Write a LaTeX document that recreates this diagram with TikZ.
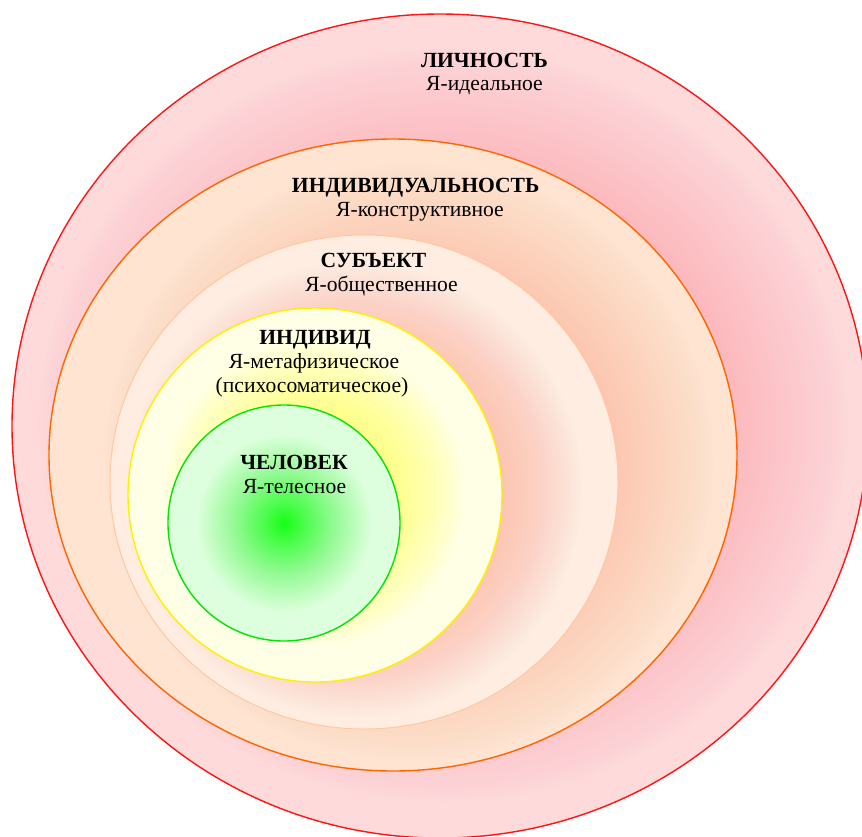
\documentclass[tikz,border=0pt]{standalone}
\usepackage{fontspec}
\setmainfont{Liberation Serif}
\usepackage{xcolor}
\usepackage{tikz}

\definecolor{redline}{RGB}{255,20,20}
\definecolor{pinkfill}{RGB}{255,218,218}
\definecolor{pinkshade}{RGB}{252,160,170}
\definecolor{orangeline}{RGB}{255,102,0}
\definecolor{peachfill}{RGB}{255,228,210}
\definecolor{peachshade}{RGB}{252,175,150}
\definecolor{subjline}{RGB}{255,200,160}
\definecolor{subjfill}{RGB}{255,237,226}
\definecolor{subjshade}{RGB}{252,160,135}
\definecolor{yellowline}{RGB}{255,240,0}
\definecolor{yellowfill}{RGB}{255,255,230}
\definecolor{yellowshade}{RGB}{255,255,70}
\definecolor{greenline}{RGB}{0,230,0}
\definecolor{greencore}{RGB}{20,255,20}
\definecolor{greenmid}{RGB}{150,250,150}
\definecolor{greenedge}{RGB}{222,255,222}

\pgfdeclareradialshading{greenglow}{\pgfpoint{0bp}{0bp}}{color(0bp)=(greencore); color(4bp)=(greenmid!40!greencore); color(11bp)=(greenmid); color(19bp)=(greenedge); color(50bp)=(greenedge)}

\begin{document}
\begin{tikzpicture}[x=1pt, y=-1pt,
  title/.style={font=\bfseries\fontsize{21.6}{24}\selectfont, inner sep=0pt, anchor=base},
  subline/.style={font=\fontsize{21.6}{24}\selectfont, inner sep=0pt, anchor=base},
  shadowring/.style={opacity=#1}]

	\clip (0,0) rectangle (862,836);

	% Outer ring
	\fill[pinkfill] (440,426) ellipse [x radius=428, y radius=412];
	\begin{scope}
		\clip (440,426) ellipse [x radius=428, y radius=412];
		\foreach \k in {1,...,30}
			\fill[pinkshade, shadowring=0.018] (443,425) ellipse [x radius=284+4*\k, y radius=256+4*\k];
	\end{scope}
	\draw[redline, line width=1.4pt] (440,426) ellipse [x radius=428, y radius=412];

	% Second ring
	\fill[peachfill] (393,455) ellipse [x radius=344, y radius=316];
	\begin{scope}
		\clip (393,455) ellipse [x radius=344, y radius=316];
		\foreach \k in {1,...,30}
			\fill[peachshade, shadowring=0.018] (409,462) ellipse [x radius=199+3.5*\k, y radius=192+3.5*\k];
	\end{scope}
	\draw[orangeline, line width=1.4pt] (393,455) ellipse [x radius=344, y radius=316];

	% Third ring
	\fill[subjfill] (364,482) ellipse [x radius=254, y radius=247];
	\begin{scope}
		\clip (364,482) ellipse [x radius=254, y radius=247];
		\foreach \k in {1,...,30}
			\fill[subjshade, shadowring=0.02] (355,490) ellipse [x radius=137+3*\k, y radius=137+3*\k];
	\end{scope}
	\draw[subjline, line width=1pt] (364,482) ellipse [x radius=254, y radius=247];

	% Fourth ring
	\fill[yellowfill] (315,495) ellipse [x radius=187, y radius=187];
	\begin{scope}
		\clip (315,495) ellipse [x radius=187, y radius=187];
		\foreach \k in {1,...,30}
			\fill[yellowshade, shadowring=0.022] (314,493) ellipse [x radius=76+2.5*\k, y radius=78+2.5*\k];
	\end{scope}
	\draw[yellowline, line width=1.4pt] (315,495) ellipse [x radius=187, y radius=187];

	% Core
	\shade[shading=greenglow] (284,523) ellipse [x radius=116, y radius=118];
	\draw[greenline, line width=1.4pt] (284,523) ellipse [x radius=116, y radius=118];

	% Labels
	\node[title] (lichn) at (484.5,67.3) {ЛИЧНОСТЬ};
	\node[subline] (lichnsub) at (484.5,90.7) {Я-идеальное};
	\node[title] (indiv) at (415.7,192.7) {ИНДИВИДУАЛЬНОСТЬ};
	\node[subline] (indivsub) at (420,216.7) {Я-конструктивное};
	\node[title] (subj) at (373.5,267.3) {СУБЪЕКТ};
	\node[subline] (subjsub) at (381.5,291.7) {Я-общественное};
	\node[title] (individ) at (315,344) {ИНДИВИД};
	\node[subline] (individsub) at (314,368.3) {Я-метафизическое};
	\node[subline] (individsubb) at (312,392.7) {(психосоматическое)};
	\node[title] (chel) at (294,469.3) {ЧЕЛОВЕК};
	\node[subline] (chelsub) at (294.5,493.3) {Я-телесное};
\end{tikzpicture}
\end{document}
